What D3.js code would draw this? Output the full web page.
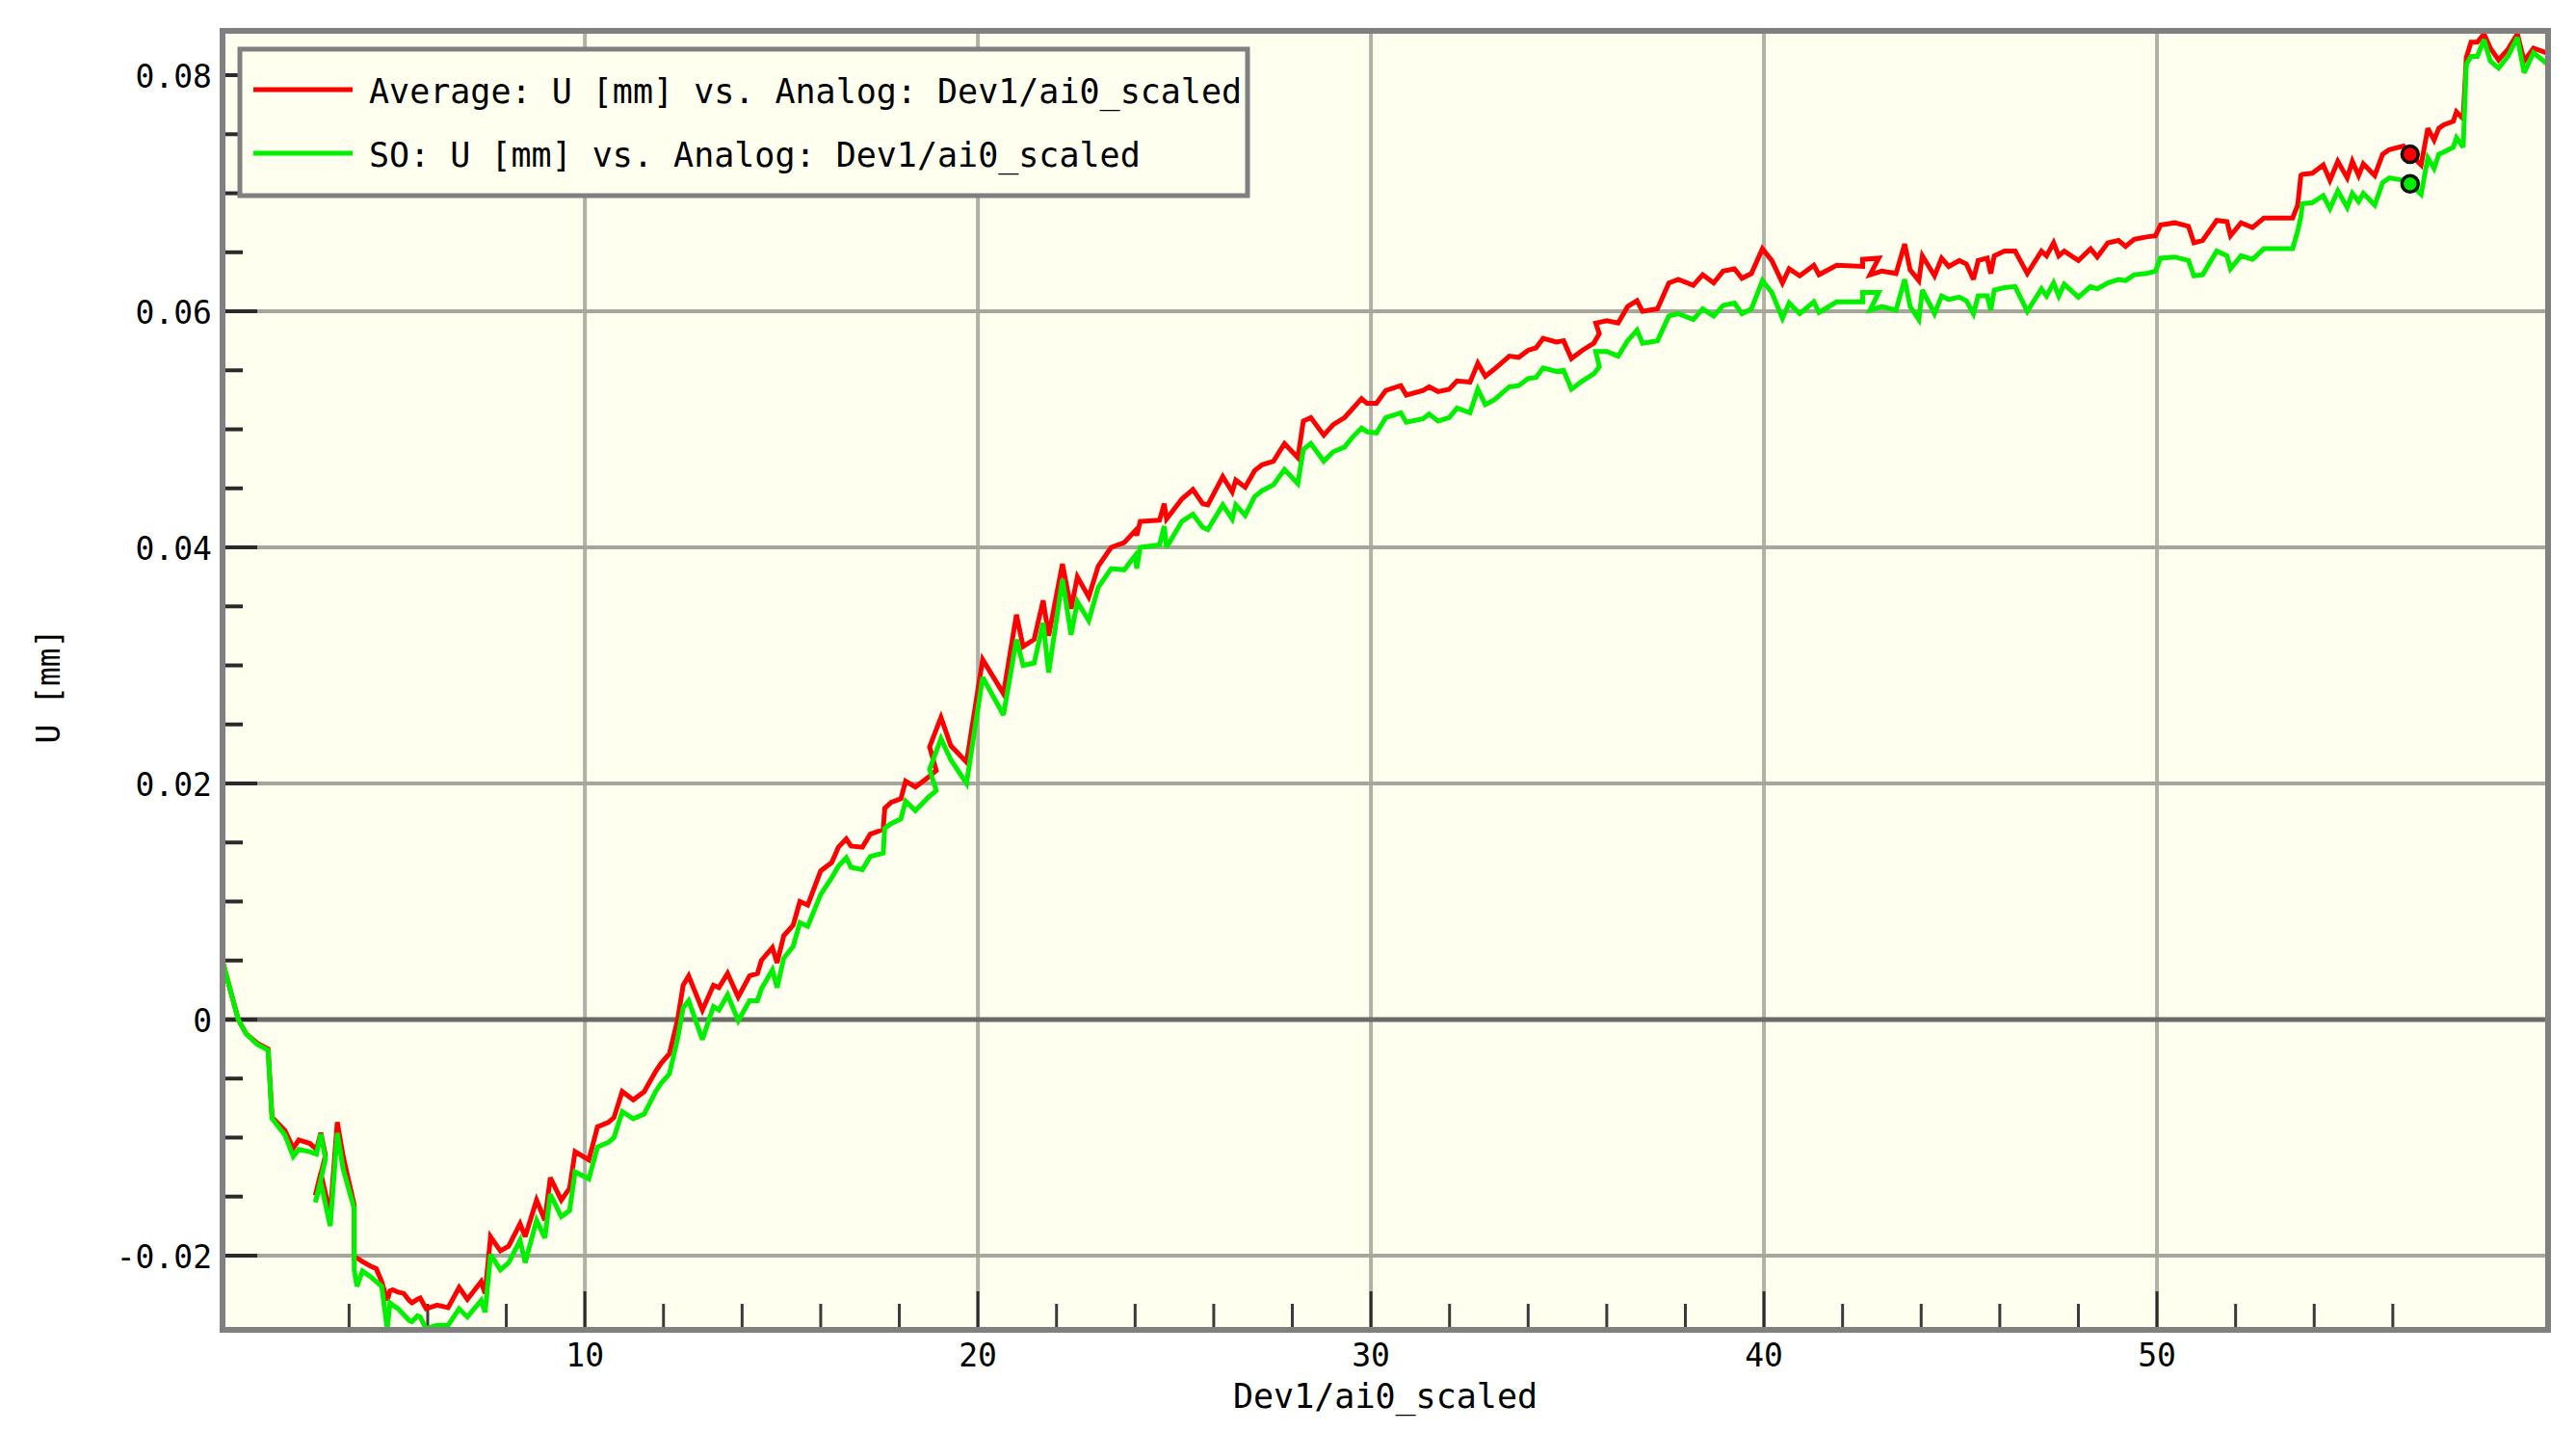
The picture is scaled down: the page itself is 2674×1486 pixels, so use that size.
<!DOCTYPE html>
<html><head><meta charset="utf-8">
<script src="https://cdn.jsdelivr.net/npm/d3@7"></script>
<style>
html,body{margin:0;padding:0;background:#fff;}
svg{display:block;}
</style></head>
<body>
<svg id="chart" width="2674" height="1486"></svg>
<script>
// ---- data ----
const analogX = [0.80,1.18,1.38,1.66,1.94,2.04,2.37,2.58,2.72,3.00,3.17,3.28,3.40,3.25,3.14,3.28,3.52,3.70,3.85,4.13,4.13,4.20,4.34,4.55,4.69,4.83,4.97,5.04,5.11,5.25,5.39,5.53,5.60,5.74,5.81,5.96,6.24,6.52,6.80,7.01,7.36,7.46,7.60,7.85,8.06,8.35,8.48,8.77,8.98,9.12,9.40,9.61,9.75,10.10,10.32,10.60,10.74,10.95,11.23,11.51,11.80,11.94,12.15,12.36,12.50,12.64,12.99,13.27,13.41,13.63,13.90,14.19,14.39,14.49,14.77,14.89,15.06,15.30,15.47,15.67,16.00,16.28,16.45,16.65,16.77,17.06,17.26,17.59,17.63,17.79,18.04,18.16,18.41,18.73,18.94,18.77,19.06,19.31,19.71,20.12,20.65,20.98,21.15,21.43,21.66,21.80,22.15,22.37,22.53,22.82,23.06,23.39,23.72,24.00,24.04,24.13,24.62,24.74,24.80,25.19,25.47,25.72,25.85,26.23,26.47,26.56,26.80,27.04,27.23,27.52,27.80,28.14,28.28,28.47,28.80,29.04,29.33,29.52,29.76,29.90,30.14,30.38,30.76,30.90,31.33,31.48,31.71,31.99,32.19,32.52,32.72,32.91,33.14,33.52,33.76,34.00,34.20,34.38,34.72,34.90,35.10,35.38,35.67,35.81,35.72,36.00,36.29,36.53,36.77,36.91,37.29,37.58,37.82,38.20,38.44,38.72,38.96,39.25,39.44,39.68,39.96,40.20,40.47,40.64,40.91,41.27,41.40,41.85,42.51,42.51,42.92,42.70,43.00,43.36,43.58,43.72,43.94,44.03,44.34,44.52,44.70,44.97,45.15,45.33,45.45,45.68,45.77,45.86,46.12,46.39,46.70,47.06,47.19,47.37,47.50,47.64,48.00,48.31,48.48,48.75,49.02,49.20,49.42,49.73,49.96,50.09,50.45,50.80,50.94,51.16,51.52,51.78,51.87,52.14,52.43,52.72,53.08,53.45,53.58,53.66,53.70,53.95,54.23,54.40,54.60,54.84,54.97,55.13,55.25,55.54,55.74,55.91,56.27,56.44,56.72,56.89,57.05,57.17,57.30,57.54,57.62,57.79,57.87,57.99,58.15,58.32,58.48,58.69,58.93,59.17,59.34,59.58,59.91];

const averageU = [0.0047,0.0000,-0.0012,-0.0020,-0.0025,-0.0083,-0.0094,-0.0109,-0.0102,-0.0105,-0.0110,-0.0096,-0.0115,-0.0135,-0.0149,-0.0130,-0.0165,-0.0087,-0.0116,-0.0157,-0.0202,-0.0202,-0.0205,-0.0209,-0.0211,-0.0222,-0.0238,-0.0230,-0.0229,-0.0231,-0.0232,-0.0238,-0.0240,-0.0237,-0.0236,-0.0245,-0.0242,-0.0244,-0.0227,-0.0237,-0.0222,-0.0232,-0.0184,-0.0196,-0.0192,-0.0173,-0.0184,-0.0153,-0.0170,-0.0134,-0.0153,-0.0143,-0.0112,-0.0119,-0.0091,-0.0087,-0.0083,-0.0061,-0.0068,-0.0061,-0.0044,-0.0037,-0.0029,0.0000,0.0029,0.0037,0.0008,0.0029,0.0027,0.0039,0.0019,0.0037,0.0039,0.0050,0.0061,0.0048,0.0071,0.0080,0.0100,0.0097,0.0126,0.0133,0.0146,0.0153,0.0147,0.0146,0.0157,0.0161,0.0179,0.0184,0.0187,0.0202,0.0197,0.0205,0.0211,0.0231,0.0256,0.0232,0.0218,0.0305,0.0276,0.0343,0.0316,0.0322,0.0355,0.0325,0.0386,0.0348,0.0375,0.0358,0.0384,0.0400,0.0404,0.0414,0.0410,0.0422,0.0423,0.0437,0.0424,0.0441,0.0449,0.0437,0.0436,0.0460,0.0447,0.0457,0.0451,0.0465,0.0470,0.0473,0.0488,0.0476,0.0507,0.0510,0.0495,0.0504,0.0510,0.0517,0.0526,0.0522,0.0522,0.0533,0.0537,0.0529,0.0533,0.0536,0.0532,0.0534,0.0541,0.0540,0.0556,0.0545,0.0551,0.0562,0.0561,0.0567,0.0569,0.0577,0.0574,0.0575,0.0560,0.0567,0.0573,0.0581,0.0590,0.0592,0.0590,0.0604,0.0609,0.0600,0.0602,0.0624,0.0627,0.0622,0.0631,0.0624,0.0634,0.0636,0.0628,0.0632,0.0653,0.0643,0.0624,0.0636,0.0630,0.0639,0.0631,0.0639,0.0638,0.0644,0.0645,0.0631,0.0634,0.0632,0.0657,0.0635,0.0626,0.0647,0.0630,0.0645,0.0638,0.0643,0.0640,0.0627,0.0643,0.0645,0.0632,0.0647,0.0651,0.0651,0.0632,0.0651,0.0647,0.0658,0.0647,0.0651,0.0643,0.0653,0.0646,0.0658,0.0660,0.0655,0.0661,0.0663,0.0664,0.0673,0.0675,0.0672,0.0658,0.0660,0.0677,0.0676,0.0664,0.0675,0.0671,0.0679,0.0679,0.0679,0.0690,0.0715,0.0716,0.0717,0.0724,0.0711,0.0727,0.0713,0.0727,0.0715,0.0725,0.0715,0.0733,0.0737,0.0740,0.0733,0.0724,0.0755,0.0745,0.0755,0.0758,0.0761,0.0769,0.0763,0.0815,0.0828,0.0828,0.0835,0.0823,0.0813,0.0822,0.0835,0.0812,0.0823,0.0819];

const sdU = [0.0047,0.0000,-0.0012,-0.0021,-0.0026,-0.0084,-0.0098,-0.0116,-0.0110,-0.0112,-0.0114,-0.0097,-0.0118,-0.0140,-0.0155,-0.0138,-0.0175,-0.0096,-0.0127,-0.0160,-0.0212,-0.0226,-0.0213,-0.0218,-0.0222,-0.0226,-0.0262,-0.0240,-0.0242,-0.0245,-0.0250,-0.0255,-0.0256,-0.0251,-0.0252,-0.0262,-0.0259,-0.0259,-0.0245,-0.0252,-0.0238,-0.0248,-0.0199,-0.0212,-0.0206,-0.0187,-0.0206,-0.0170,-0.0185,-0.0148,-0.0167,-0.0162,-0.0129,-0.0135,-0.0108,-0.0104,-0.0100,-0.0078,-0.0084,-0.0080,-0.0061,-0.0054,-0.0046,-0.0016,0.0010,0.0016,-0.0017,0.0011,0.0008,0.0021,-0.0001,0.0016,0.0016,0.0026,0.0042,0.0027,0.0052,0.0062,0.0082,0.0079,0.0106,0.0120,0.0130,0.0137,0.0129,0.0127,0.0138,0.0141,0.0162,0.0166,0.0170,0.0185,0.0177,0.0188,0.0194,0.0212,0.0238,0.0220,0.0200,0.0290,0.0258,0.0322,0.0300,0.0302,0.0336,0.0294,0.0373,0.0326,0.0354,0.0338,0.0366,0.0382,0.0381,0.0393,0.0382,0.0400,0.0402,0.0418,0.0400,0.0422,0.0428,0.0417,0.0415,0.0436,0.0424,0.0436,0.0427,0.0443,0.0448,0.0453,0.0466,0.0454,0.0483,0.0488,0.0473,0.0481,0.0485,0.0493,0.0501,0.0498,0.0497,0.0510,0.0514,0.0506,0.0509,0.0513,0.0507,0.0510,0.0518,0.0514,0.0534,0.0521,0.0525,0.0536,0.0537,0.0543,0.0544,0.0552,0.0549,0.0550,0.0534,0.0541,0.0547,0.0553,0.0566,0.0566,0.0562,0.0575,0.0584,0.0573,0.0575,0.0596,0.0598,0.0593,0.0602,0.0596,0.0605,0.0607,0.0598,0.0602,0.0626,0.0616,0.0594,0.0607,0.0598,0.0608,0.0599,0.0608,0.0608,0.0616,0.0616,0.0601,0.0604,0.0601,0.0627,0.0604,0.0593,0.0618,0.0598,0.0613,0.0610,0.0612,0.0609,0.0598,0.0613,0.0613,0.0601,0.0618,0.0620,0.0621,0.0600,0.0619,0.0613,0.0624,0.0613,0.0623,0.0612,0.0621,0.0619,0.0624,0.0627,0.0626,0.0631,0.0632,0.0634,0.0645,0.0646,0.0643,0.0630,0.0631,0.0651,0.0647,0.0636,0.0647,0.0644,0.0653,0.0653,0.0653,0.0668,0.0680,0.0691,0.0692,0.0698,0.0687,0.0702,0.0688,0.0700,0.0693,0.0700,0.0690,0.0709,0.0713,0.0711,0.0708,0.0699,0.0730,0.0721,0.0733,0.0735,0.0739,0.0747,0.0739,0.0809,0.0816,0.0816,0.0830,0.0812,0.0806,0.0816,0.0832,0.0802,0.0819,0.0810];

const cursorX = 56.44;
const cursorValues = [0.0733, 0.0708];

const seriesNames = ["Average: U [mm] vs. Analog: Dev1/ai0_scaled", "SO: U [mm] vs. Analog: Dev1/ai0_scaled"];
const seriesColors = ["#ff0000", "#00f000"];

const xMajorTicks = [10, 20, 30, 40, 50];
const xMinorTicks = [4, 6, 8, 12, 14, 16, 18, 22, 24, 26, 28, 32, 34, 36, 38, 42, 44, 46, 48, 52, 54, 56];
const yMajorTicks = [-0.02, 0, 0.02, 0.04, 0.06, 0.08];
const yTickLabels = ["-0.02", "0", "0.02", "0.04", "0.06", "0.08"];
const yMinorTicks = [-0.015, -0.01, -0.005, 0.005, 0.01, 0.015, 0.025, 0.03, 0.035, 0.045, 0.05, 0.055, 0.065, 0.07, 0.075];
const yGridTicks = [-0.02, 0.02, 0.04, 0.06];

const xTitle = "Dev1/ai0_scaled";
const yTitle = "U [mm]";

// ---- drawing ----
const svg = d3.select("#chart");
const L = 231, R = 2645, T = 32, B = 1380;
const x = d3.scaleLinear().domain([0.78, 59.95]).range([L, R]);
const y = d3.scaleLinear().domain([-0.02629, 0.08376]).range([B, T]);
const FONT = "'DejaVu Sans Mono', 'Liberation Mono', monospace";

svg.append("rect").attr("x", L).attr("y", T).attr("width", R - L).attr("height", B - T).attr("fill", "#fffff0");

svg.append("defs").append("clipPath").attr("id", "clip")
  .append("rect").attr("x", L).attr("y", T).attr("width", R - L).attr("height", B - T);

// grid
const grid = svg.append("g");
grid.selectAll("line.vg").data(xMajorTicks).join("line")
  .attr("x1", d => x(d)).attr("x2", d => x(d)).attr("y1", T).attr("y2", B)
  .attr("stroke", "#b0b0a6").attr("stroke-width", 4);
grid.selectAll("line.hg").data(yGridTicks).join("line")
  .attr("x1", L).attr("x2", R).attr("y1", d => y(d)).attr("y2", d => y(d))
  .attr("stroke", "#a6a69c").attr("stroke-width", 4);
grid.append("line").attr("x1", L).attr("x2", R).attr("y1", y(0)).attr("y2", y(0))
  .attr("stroke", "#6a6a66").attr("stroke-width", 5);

// ticks (inward from frame)
const ax = svg.append("g");
ax.selectAll("line.xM").data(xMajorTicks).join("line")
  .attr("x1", d => x(d)).attr("x2", d => x(d)).attr("y1", B).attr("y2", B - 40)
  .attr("stroke", "#2a2a2a").attr("stroke-width", 3);
ax.selectAll("line.xm").data(xMinorTicks).join("line")
  .attr("x1", d => x(d)).attr("x2", d => x(d)).attr("y1", B).attr("y2", B - 27)
  .attr("stroke", "#3a3a3a").attr("stroke-width", 3);
ax.selectAll("line.yM").data(yMajorTicks).join("line")
  .attr("x1", L).attr("x2", L + 36).attr("y1", d => y(d)).attr("y2", d => y(d))
  .attr("stroke", "#2a2a2a").attr("stroke-width", 4);
ax.selectAll("line.ym").data(yMinorTicks).join("line")
  .attr("x1", L).attr("x2", L + 21).attr("y1", d => y(d)).attr("y2", d => y(d))
  .attr("stroke", "#2a2a2a").attr("stroke-width", 4);

// data lines
const pts = s => analogX.map((v, i) => [v, s[i]]);
const line = d3.line().x(d => x(d[0])).y(d => y(d[1]));
const plot = svg.append("g").attr("clip-path", "url(#clip)");
[averageU, sdU].forEach((s, i) => {
  plot.append("path").datum(pts(s)).attr("d", line)
    .attr("fill", "none").attr("stroke", seriesColors[i]).attr("stroke-width", 5)
    .attr("stroke-linejoin", "miter").attr("stroke-miterlimit", 3);
});
plot.selectAll("circle.cur").data(cursorValues).join("circle")
  .attr("cx", x(cursorX)).attr("cy", d => y(d)).attr("r", 8.5)
  .attr("fill", (d, i) => seriesColors[i]).attr("stroke", "#111").attr("stroke-width", 3.5);

// frame
svg.append("rect").attr("x", L).attr("y", T).attr("width", R - L).attr("height", B - T)
  .attr("fill", "none").attr("stroke", "#808080").attr("stroke-width", 6);

// tick labels
svg.append("g").selectAll("text").data(xMajorTicks).join("text")
  .attr("x", d => x(d)).attr("y", 1418).attr("text-anchor", "middle")
  .attr("font-family", FONT).attr("font-size", 33).attr("fill", "#000").text(d => d);
svg.append("g").selectAll("text").data(yMajorTicks).join("text")
  .attr("x", 220).attr("y", d => y(d) + 13).attr("text-anchor", "end")
  .attr("font-family", FONT).attr("font-size", 33).attr("fill", "#000")
  .text((d, i) => yTickLabels[i]);

// axis titles
svg.append("text").attr("x", (L + R) / 2).attr("y", 1461).attr("text-anchor", "middle")
  .attr("font-family", FONT).attr("font-size", 35).attr("fill", "#000").text(xTitle);
svg.append("text").attr("transform", "translate(62,712) rotate(-90)").attr("text-anchor", "middle")
  .attr("font-family", FONT).attr("font-size", 33).attr("fill", "#000").text(yTitle);

// legend
const lg = svg.append("g");
lg.append("rect").attr("x", 249).attr("y", 51).attr("width", 1046).attr("height", 152)
  .attr("fill", "#fffff0").attr("stroke", "#808080").attr("stroke-width", 5);
seriesNames.forEach((n, i) => {
  const cy = 93 + i * 66;
  lg.append("line").attr("x1", 263).attr("x2", 366).attr("y1", cy).attr("y2", cy)
    .attr("stroke", seriesColors[i]).attr("stroke-width", 5);
  lg.append("text").attr("x", 383).attr("y", cy + 14)
    .attr("font-family", FONT).attr("font-size", 35).attr("fill", "#000").text(n);
});
</script>
</body></html>
